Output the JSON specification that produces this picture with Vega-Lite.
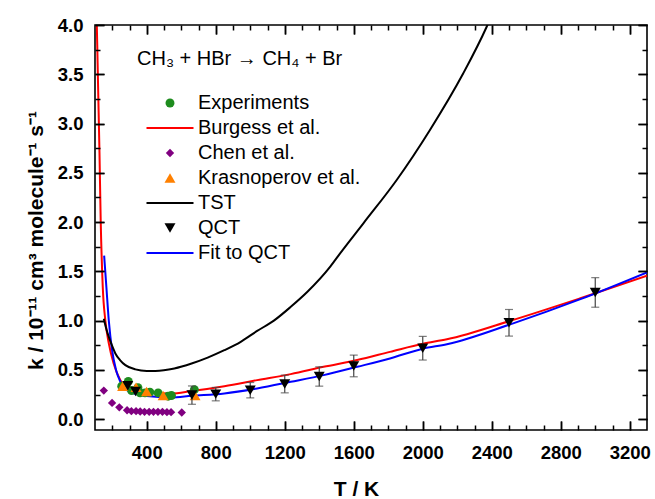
{
  "$schema": "https://vega.github.io/schema/vega-lite/v6.json",
  "autosize": "none",
  "padding": {"left": 95, "top": 25, "right": 8, "bottom": 69},
  "width": 552,
  "height": 405,
  "background": "white",
  "title": {"text": "CH₃ + HBr → CH₄ + Br", "anchor": "start", "frame": "group", "dx": 42, "dy": 57, "font": "Liberation Sans", "fontSize": 20, "fontWeight": "normal", "color": "black"},
  "config": {
    "view": {"stroke": "black", "strokeWidth": 1.6},
    "legend": {"labelFont": "Liberation Sans", "labelFontSize": 20, "labelColor": "black", "labelLimit": 400}
  },
  "data": {"values": [
    {"series": "Burgess et al.", "T": 108, "k": 4.2},
    {"series": "Burgess et al.", "T": 113, "k": 3.8},
    {"series": "Burgess et al.", "T": 118, "k": 3.37},
    {"series": "Burgess et al.", "T": 126, "k": 2.7},
    {"series": "Burgess et al.", "T": 133, "k": 2.02},
    {"series": "Burgess et al.", "T": 145, "k": 1.34},
    {"series": "Burgess et al.", "T": 160, "k": 1.0},
    {"series": "Burgess et al.", "T": 180, "k": 0.77},
    {"series": "Burgess et al.", "T": 208, "k": 0.565},
    {"series": "Burgess et al.", "T": 247, "k": 0.396},
    {"series": "Burgess et al.", "T": 300, "k": 0.31},
    {"series": "Burgess et al.", "T": 400, "k": 0.27},
    {"series": "Burgess et al.", "T": 540, "k": 0.26},
    {"series": "Burgess et al.", "T": 660, "k": 0.285},
    {"series": "Burgess et al.", "T": 850, "k": 0.335},
    {"series": "Burgess et al.", "T": 1040, "k": 0.396},
    {"series": "Burgess et al.", "T": 1235, "k": 0.457},
    {"series": "Burgess et al.", "T": 1425, "k": 0.531},
    {"series": "Burgess et al.", "T": 1620, "k": 0.6},
    {"series": "Burgess et al.", "T": 1810, "k": 0.683},
    {"series": "Burgess et al.", "T": 2000, "k": 0.765},
    {"series": "Burgess et al.", "T": 2140, "k": 0.81},
    {"series": "Burgess et al.", "T": 2520, "k": 1.005},
    {"series": "Burgess et al.", "T": 2910, "k": 1.225},
    {"series": "Burgess et al.", "T": 3300, "k": 1.455},
    {"series": "Fit to QCT", "T": 153, "k": 1.66},
    {"series": "Fit to QCT", "T": 166, "k": 1.34},
    {"series": "Fit to QCT", "T": 180, "k": 1.0},
    {"series": "Fit to QCT", "T": 199, "k": 0.7},
    {"series": "Fit to QCT", "T": 222, "k": 0.5},
    {"series": "Fit to QCT", "T": 247, "k": 0.38},
    {"series": "Fit to QCT", "T": 300, "k": 0.28},
    {"series": "Fit to QCT", "T": 400, "k": 0.235},
    {"series": "Fit to QCT", "T": 540, "k": 0.22},
    {"series": "Fit to QCT", "T": 660, "k": 0.237},
    {"series": "Fit to QCT", "T": 850, "k": 0.261},
    {"series": "Fit to QCT", "T": 1040, "k": 0.312},
    {"series": "Fit to QCT", "T": 1235, "k": 0.379},
    {"series": "Fit to QCT", "T": 1425, "k": 0.447},
    {"series": "Fit to QCT", "T": 1620, "k": 0.531},
    {"series": "Fit to QCT", "T": 1810, "k": 0.616},
    {"series": "Fit to QCT", "T": 2000, "k": 0.715},
    {"series": "Fit to QCT", "T": 2140, "k": 0.76},
    {"series": "Fit to QCT", "T": 2520, "k": 0.97},
    {"series": "Fit to QCT", "T": 2910, "k": 1.215},
    {"series": "Fit to QCT", "T": 3300, "k": 1.49},
    {"series": "TST", "T": 151, "k": 1.02},
    {"series": "TST", "T": 165, "k": 0.92},
    {"series": "TST", "T": 180, "k": 0.835},
    {"series": "TST", "T": 200, "k": 0.74},
    {"series": "TST", "T": 218, "k": 0.667},
    {"series": "TST", "T": 245, "k": 0.6},
    {"series": "TST", "T": 276, "k": 0.548},
    {"series": "TST", "T": 334, "k": 0.505},
    {"series": "TST", "T": 400, "k": 0.49},
    {"series": "TST", "T": 450, "k": 0.49},
    {"series": "TST", "T": 560, "k": 0.515},
    {"series": "TST", "T": 660, "k": 0.565},
    {"series": "TST", "T": 753, "k": 0.625},
    {"series": "TST", "T": 850, "k": 0.7},
    {"series": "TST", "T": 945, "k": 0.785},
    {"series": "TST", "T": 1040, "k": 0.895},
    {"series": "TST", "T": 1137, "k": 1.0},
    {"series": "TST", "T": 1235, "k": 1.14},
    {"series": "TST", "T": 1330, "k": 1.29},
    {"series": "TST", "T": 1465, "k": 1.55},
    {"series": "TST", "T": 1520, "k": 1.68},
    {"series": "TST", "T": 1657, "k": 1.99},
    {"series": "TST", "T": 1850, "k": 2.43},
    {"series": "TST", "T": 2040, "k": 2.93},
    {"series": "TST", "T": 2235, "k": 3.51},
    {"series": "TST", "T": 2370, "k": 3.98},
    {"series": "TST", "T": 2400, "k": 4.1},
    {"series": "Chen et al.", "T": 151, "k": 0.29},
    {"series": "Chen et al.", "T": 199, "k": 0.165},
    {"series": "Chen et al.", "T": 241, "k": 0.12},
    {"series": "Chen et al.", "T": 286, "k": 0.091},
    {"series": "Chen et al.", "T": 311, "k": 0.081},
    {"series": "Chen et al.", "T": 338, "k": 0.081},
    {"series": "Chen et al.", "T": 362, "k": 0.078},
    {"series": "Chen et al.", "T": 387, "k": 0.074},
    {"series": "Chen et al.", "T": 414, "k": 0.074},
    {"series": "Chen et al.", "T": 439, "k": 0.074},
    {"series": "Chen et al.", "T": 465, "k": 0.074},
    {"series": "Chen et al.", "T": 491, "k": 0.074},
    {"series": "Chen et al.", "T": 517, "k": 0.071},
    {"series": "Chen et al.", "T": 541, "k": 0.071},
    {"series": "Chen et al.", "T": 603, "k": 0.068},
    {"series": "Experiments", "T": 255, "k": 0.335},
    {"series": "Experiments", "T": 293, "k": 0.383},
    {"series": "Experiments", "T": 312, "k": 0.29},
    {"series": "Experiments", "T": 349, "k": 0.32},
    {"series": "Experiments", "T": 361, "k": 0.267},
    {"series": "Experiments", "T": 390, "k": 0.267},
    {"series": "Experiments", "T": 418, "k": 0.274},
    {"series": "Experiments", "T": 466, "k": 0.267},
    {"series": "Experiments", "T": 524, "k": 0.233},
    {"series": "Experiments", "T": 543, "k": 0.24},
    {"series": "Experiments", "T": 676, "k": 0.3},
    {"series": "Krasnoperov et al.", "T": 260, "k": 0.335},
    {"series": "Krasnoperov et al.", "T": 338, "k": 0.325},
    {"series": "Krasnoperov et al.", "T": 399, "k": 0.28},
    {"series": "Krasnoperov et al.", "T": 495, "k": 0.24},
    {"series": "Krasnoperov et al.", "T": 680, "k": 0.24},
    {"series": "QCT", "T": 290, "k": 0.34},
    {"series": "QCT", "T": 335, "k": 0.28},
    {"series": "QCT", "T": 662, "k": 0.244, "err": 0.093},
    {"series": "QCT", "T": 800, "k": 0.254, "err": 0.068},
    {"series": "QCT", "T": 1000, "k": 0.294, "err": 0.078},
    {"series": "QCT", "T": 1200, "k": 0.357, "err": 0.09},
    {"series": "QCT", "T": 1400, "k": 0.433, "err": 0.098},
    {"series": "QCT", "T": 1600, "k": 0.54, "err": 0.11},
    {"series": "QCT", "T": 2000, "k": 0.72, "err": 0.12},
    {"series": "QCT", "T": 2500, "k": 0.978, "err": 0.135},
    {"series": "QCT", "T": 3000, "k": 1.286, "err": 0.15}
  ]},
  "resolve": {"axis": {"x": "independent", "y": "independent"}},
  "layer": [
    {
      "transform": [{"filter": {"field": "series", "oneOf": ["Fit to QCT", "Burgess et al.", "TST"]}}],
      "mark": {"type": "line", "strokeWidth": 2, "clip": true, "interpolate": "monotone"},
      "encoding": {
        "x": {"field": "T", "type": "quantitative", "scale": {"domain": [100, 3300], "nice": false, "zero": false},
              "axis": {"orient": "bottom", "zindex": 2, "offset": -9, "grid": false, "domain": false, "tickColor": "black", "tickWidth": 1.5, "values": [400, 800, 1200, 1600, 2000, 2400, 2800, 3200], "format": "d", "tickSize": 9, "labelPadding": 13, "labelFlush": false, "labelFont": "Liberation Sans", "labelFontWeight": "bold", "labelFontSize": 18.5, "labelColor": "black", "title": "T / K", "titleFont": "Liberation Sans", "titleFontWeight": "bold", "titleFontSize": 21, "titleColor": "black", "titleX": 261, "titleY": 74, "titleBaseline": "alphabetic"}},
        "y": {"field": "k", "type": "quantitative", "scale": {"domain": [-0.11, 4.0], "nice": false, "zero": false},
              "axis": {"orient": "left", "zindex": 2, "offset": -9, "grid": false, "domain": false, "tickColor": "black", "tickWidth": 1.5, "values": [0, 0.5, 1, 1.5, 2, 2.5, 3, 3.5, 4], "format": ".1f", "tickSize": 9, "labelPadding": 12, "labelFlush": false, "labelFont": "Liberation Sans", "labelFontWeight": "bold", "labelFontSize": 18.5, "labelColor": "black", "title": "k / 10⁻¹¹ cm³ molecule⁻¹ s⁻¹", "titleFont": "Liberation Sans", "titleFontWeight": "bold", "titleFontSize": 21, "titleColor": "black", "titleX": -62, "titleY": 215, "titleAngle": 270, "titleAlign": "center", "titleBaseline": "alphabetic"}},
        "color": {"field": "series", "type": "nominal",
          "scale": {"domain": ["Experiments", "Burgess et al.", "Chen et al.", "Krasnoperov et al.", "TST", "QCT", "Fit to QCT"],
                    "range": ["#1E8C1E", "#FF0000", "#800080", "#FF8000", "#000000", "#000000", "#0000FF"]},
          "legend": {"orient": "none", "legendX": 65, "legendY": 68, "title": null, "padding": 0, "labelOffset": 18, "labelLimit": 400, "symbolSize": 100, "rowPadding": 5,
            "encode": {"symbols": {"update": {
              "shape": {"scale": "shape", "field": "value"},
              "size": {"signal": "indexof(['Burgess et al.','TST','Fit to QCT'], datum.value) >= 0 ? 2209 : (datum.value == 'Experiments' ? 80 : (datum.value == 'Chen et al.' ? 70 : 120))"},
              "fill": {"scale": "color", "field": "value"},
              "stroke": {"scale": "color", "field": "value"},
              "strokeWidth": {"signal": "indexof(['Burgess et al.','TST','Fit to QCT'], datum.value) >= 0 ? 2 : 0"},
              "opacity": {"value": 1},
              "fillOpacity": {"value": 1},
              "strokeOpacity": {"value": 1}
            }}}}}
      }
    },
    {
      "transform": [{"filter": {"field": "series", "equal": "Chen et al."}}],
      "mark": {"type": "point", "filled": true, "opacity": 1, "size": 70},
      "encoding": {
        "x": {"field": "T", "type": "quantitative", "scale": {"domain": [100, 3300], "nice": false, "zero": false},
              "axis": {"orient": "bottom", "zindex": 2, "offset": -5, "grid": false, "tickColor": "black", "tickWidth": 1.5, "values": [200, 300, 500, 600, 700, 900, 1000, 1100, 1300, 1400, 1500, 1700, 1800, 1900, 2100, 2200, 2300, 2500, 2600, 2700, 2900, 3000, 3100], "tickSize": 5, "labels": false, "domain": false, "title": null}},
        "y": {"field": "k", "type": "quantitative", "scale": {"domain": [-0.11, 4.0], "nice": false, "zero": false},
              "axis": {"orient": "left", "zindex": 2, "offset": -5, "grid": false, "tickColor": "black", "tickWidth": 1.5, "values": [0.25, 0.75, 1.25, 1.75, 2.25, 2.75, 3.25, 3.75], "tickSize": 5, "labels": false, "domain": false, "title": null}},
        "color": {"field": "series", "type": "nominal", "scale": {"domain": ["Experiments", "Burgess et al.", "Chen et al.", "Krasnoperov et al.", "TST", "QCT", "Fit to QCT"], "range": ["#1E8C1E", "#FF0000", "#800080", "#FF8000", "#000000", "#000000", "#0000FF"]}},
        "shape": {"field": "series", "type": "nominal", "scale": {"domain": ["Experiments", "Burgess et al.", "Chen et al.", "Krasnoperov et al.", "TST", "QCT", "Fit to QCT"], "range": ["circle", "stroke", "diamond", "triangle-up", "stroke", "triangle-down", "stroke"]}}
      }
    },
    {
      "transform": [{"filter": {"field": "series", "equal": "Experiments"}}],
      "mark": {"type": "point", "filled": true, "opacity": 1, "size": 80},
      "encoding": {
        "x": {"field": "T", "type": "quantitative", "scale": {"domain": [100, 3300], "nice": false, "zero": false},
              "axis": {"orient": "top", "zindex": 2, "offset": -9, "grid": false, "tickColor": "black", "tickWidth": 1.5, "values": [400, 800, 1200, 1600, 2000, 2400, 2800, 3200], "tickSize": 9, "labels": false, "domain": false, "title": null}},
        "y": {"field": "k", "type": "quantitative", "scale": {"domain": [-0.11, 4.0], "nice": false, "zero": false},
              "axis": {"orient": "right", "zindex": 2, "offset": -9, "grid": false, "tickColor": "black", "tickWidth": 1.5, "values": [0, 0.5, 1, 1.5, 2, 2.5, 3, 3.5, 4], "tickSize": 9, "labels": false, "domain": false, "title": null}},
        "color": {"field": "series", "type": "nominal", "scale": {"domain": ["Experiments", "Burgess et al.", "Chen et al.", "Krasnoperov et al.", "TST", "QCT", "Fit to QCT"], "range": ["#1E8C1E", "#FF0000", "#800080", "#FF8000", "#000000", "#000000", "#0000FF"]}},
        "shape": {"field": "series", "type": "nominal", "scale": {"domain": ["Experiments", "Burgess et al.", "Chen et al.", "Krasnoperov et al.", "TST", "QCT", "Fit to QCT"], "range": ["circle", "stroke", "diamond", "triangle-up", "stroke", "triangle-down", "stroke"]}}
      }
    },
    {
      "transform": [{"filter": {"field": "series", "equal": "Krasnoperov et al."}}],
      "mark": {"type": "point", "filled": true, "opacity": 1, "size": 120},
      "encoding": {
        "x": {"field": "T", "type": "quantitative", "scale": {"domain": [100, 3300], "nice": false, "zero": false},
              "axis": {"orient": "top", "zindex": 2, "offset": -5, "grid": false, "tickColor": "black", "tickWidth": 1.5, "values": [200, 300, 500, 600, 700, 900, 1000, 1100, 1300, 1400, 1500, 1700, 1800, 1900, 2100, 2200, 2300, 2500, 2600, 2700, 2900, 3000, 3100], "tickSize": 5, "labels": false, "domain": false, "title": null}},
        "y": {"field": "k", "type": "quantitative", "scale": {"domain": [-0.11, 4.0], "nice": false, "zero": false},
              "axis": {"orient": "right", "zindex": 2, "offset": -5, "grid": false, "tickColor": "black", "tickWidth": 1.5, "values": [0.25, 0.75, 1.25, 1.75, 2.25, 2.75, 3.25, 3.75], "tickSize": 5, "labels": false, "domain": false, "title": null}},
        "color": {"field": "series", "type": "nominal", "scale": {"domain": ["Experiments", "Burgess et al.", "Chen et al.", "Krasnoperov et al.", "TST", "QCT", "Fit to QCT"], "range": ["#1E8C1E", "#FF0000", "#800080", "#FF8000", "#000000", "#000000", "#0000FF"]}},
        "shape": {"field": "series", "type": "nominal", "scale": {"domain": ["Experiments", "Burgess et al.", "Chen et al.", "Krasnoperov et al.", "TST", "QCT", "Fit to QCT"], "range": ["circle", "stroke", "diamond", "triangle-up", "stroke", "triangle-down", "stroke"]}}
      }
    },
    {
      "transform": [{"filter": {"field": "err", "valid": true}}],
      "mark": {"type": "errorbar", "ticks": {"size": 8}, "color": "#444444", "thickness": 1.2},
      "encoding": {
        "x": {"field": "T", "type": "quantitative", "scale": {"domain": [100, 3300], "nice": false, "zero": false},
              "axis": {"orient": "top", "zindex": 2, "offset": -9, "grid": false, "tickColor": "black", "tickWidth": 1.5, "values": [400, 800, 1200, 1600, 2000, 2400, 2800, 3200], "tickSize": 9, "labels": false, "domain": false, "title": null}},
        "y": {"field": "k", "type": "quantitative", "scale": {"domain": [-0.11, 4.0], "nice": false, "zero": false},
              "axis": {"orient": "right", "zindex": 2, "offset": -9, "grid": false, "tickColor": "black", "tickWidth": 1.5, "values": [0, 0.5, 1, 1.5, 2, 2.5, 3, 3.5, 4], "tickSize": 9, "labels": false, "domain": false, "title": null}},
        "yError": {"field": "err"}
      }
    },
    {
      "transform": [{"filter": {"field": "series", "equal": "QCT"}}],
      "mark": {"type": "point", "filled": true, "opacity": 1, "size": 120},
      "encoding": {
        "x": {"field": "T", "type": "quantitative", "scale": {"domain": [100, 3300], "nice": false, "zero": false},
              "axis": {"orient": "bottom", "zindex": 2, "offset": -9, "grid": false, "tickColor": "black", "tickWidth": 1.5, "values": [400, 800, 1200, 1600, 2000, 2400, 2800, 3200], "tickSize": 9, "labels": false, "domain": false, "title": null}},
        "y": {"field": "k", "type": "quantitative", "scale": {"domain": [-0.11, 4.0], "nice": false, "zero": false},
              "axis": {"orient": "left", "zindex": 2, "offset": -9, "grid": false, "tickColor": "black", "tickWidth": 1.5, "values": [0, 0.5, 1, 1.5, 2, 2.5, 3, 3.5, 4], "tickSize": 9, "labels": false, "domain": false, "title": null}},
        "color": {"field": "series", "type": "nominal", "scale": {"domain": ["Experiments", "Burgess et al.", "Chen et al.", "Krasnoperov et al.", "TST", "QCT", "Fit to QCT"], "range": ["#1E8C1E", "#FF0000", "#800080", "#FF8000", "#000000", "#000000", "#0000FF"]}},
        "shape": {"field": "series", "type": "nominal", "scale": {"domain": ["Experiments", "Burgess et al.", "Chen et al.", "Krasnoperov et al.", "TST", "QCT", "Fit to QCT"], "range": ["circle", "stroke", "diamond", "triangle-up", "stroke", "triangle-down", "stroke"]}}
      }
    }
  ]
}
